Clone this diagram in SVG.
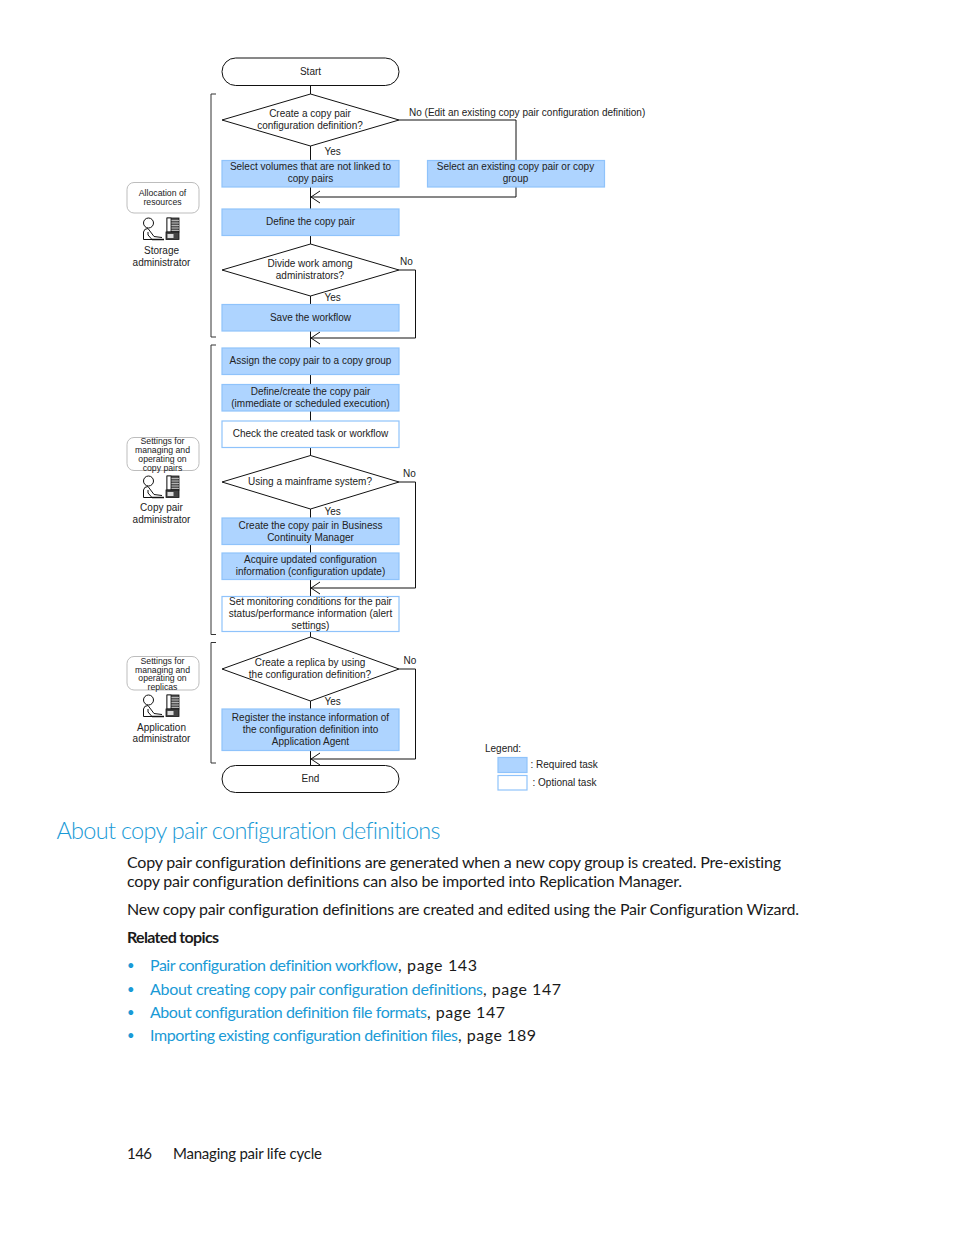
<svg xmlns="http://www.w3.org/2000/svg" width="954" height="1235" viewBox="0 0 954 1235">
<style>
text{font-family:"Liberation Sans",Arial,sans-serif;fill:#222;font-size:10px;text-anchor:middle}
.req{fill:#aed4ff;stroke:#8fc3fb;stroke-width:1.2}
.opt{fill:#fff;stroke:#8fc3fb;stroke-width:1.2}
.term,.dec{fill:#fff;stroke:#111;stroke-width:1}
.line{fill:none;stroke:#111;stroke-width:1}
.brk{fill:none;stroke:#333;stroke-width:1}
.role{fill:#fff;stroke:#bdbdbd;stroke-width:1}
.sm{font-size:8.7px}
.lbl{font-size:10px;text-anchor:start}
.body{font-family:Lato,"Open Sans",sans-serif;font-size:16px;text-anchor:start;fill:#1a1a1a;font-variant-ligatures:none}
.link{fill:#1a9ad6}
.dot{font-size:13px}
.h{font-family:Lato,"Open Sans",sans-serif;font-size:23.5px;font-weight:300;text-anchor:start;fill:#1a9ad6;font-variant-ligatures:none}
</style>
<defs>
<marker id="arr" markerUnits="userSpaceOnUse" markerWidth="12" markerHeight="14" refX="10" refY="7" orient="auto"><path d="M1 1 L10 7 L1 13" fill="none" stroke="#111" stroke-width="1"/></marker>
<g id="adminIcon">
<circle cx="5.500" cy="6" r="5" fill="#fff" stroke="#111" stroke-width="1"/>
<path d="M0.500 22.500 L0.500 15 Q1 11.500 5 11.500 L11 19.500 L19 20.500 M5 15 L5 18 L9 22.500 L0.500 22.500" fill="#fff" stroke="#111" stroke-width="1"/>
<path d="M9 22.500 H21" stroke="#111" stroke-width="1.500" fill="none"/>
<rect x="24" y="1" width="12" height="14" fill="#555" stroke="#111" stroke-width="0.800"/>
<path d="M28 3.500H36M28 6H36M28 8.500H36M28 11H36M28 13.500H36" stroke="#ccc" stroke-width="0.800"/>
<rect x="24" y="1" width="4" height="14" fill="#fff" stroke="#111" stroke-width="0.800"/>
<rect x="23" y="15" width="13" height="7.500" fill="#444" stroke="#111" stroke-width="0.800"/>
<rect x="24.500" y="17" width="6" height="4" fill="#ddd"/>
</g>
</defs>
<g id="connectors">
<path class="line" d="M310.500 85V765"/>
<path class="line" d="M399 120H516V197H311" marker-end="url(#arr)"/>
<path class="line" d="M399 270H415.500V338H311" marker-end="url(#arr)"/>
<path class="line" d="M399 482H415.500V588H311" marker-end="url(#arr)"/>
<path class="line" d="M399 669H415.500V759H311" marker-end="url(#arr)"/>
</g>
<g id="brackets">
<path class="brk" d="M216 94H211V337H216"/>
<path class="brk" d="M216 345H211V634.500H216"/>
<path class="brk" d="M216 642.500H211V763H216"/>
</g>
<g id="start"><rect class="term" x="222" y="58" width="177" height="27.500" rx="13.700"/><text x="310.500" y="74.500">Start</text></g>
<g id="d1"><path class="dec" d="M310.500 94L399 120L310.500 146L222 120Z"/><text x="310" y="117">Create a copy pair</text><text x="310" y="129">configuration definition?</text></g>
<g id="n-select"><rect class="req" x="222" y="160.500" width="177" height="26.500"/><text x="310.500" y="170">Select volumes that are not linked to</text><text x="310.500" y="182">copy pairs</text></g>
<g id="n-existing"><rect class="req" x="427.500" y="160.500" width="177" height="26.500"/><text x="515.500" y="170">Select an existing copy pair or copy</text><text x="515.500" y="182">group</text></g>
<g id="n-define"><rect class="req" x="222" y="209" width="177" height="26.500"/><text x="310.500" y="225">Define the copy pair</text></g>
<g id="d2"><path class="dec" d="M310.500 244L399 270L310.500 296L222 270Z"/><text x="310" y="267">Divide work among</text><text x="310" y="278.500">administrators?</text></g>
<g id="n-save"><rect class="req" x="222" y="304.500" width="177" height="26.500"/><text x="310.500" y="320.500">Save the workflow</text></g>
<g id="n-assign"><rect class="req" x="222" y="348" width="177" height="26.500"/><text x="310.500" y="364">Assign the copy pair to a copy group</text></g>
<g id="n-create"><rect class="req" x="222" y="384.500" width="177" height="26.500"/><text x="310.500" y="394.500">Define/create the copy pair</text><text x="310.500" y="406.500">(immediate or scheduled execution)</text></g>
<g id="n-check"><rect class="opt" x="222" y="421" width="177" height="26.500"/><text x="310.500" y="437">Check the created task or workflow</text></g>
<g id="d3"><path class="dec" d="M310.500 455.500L399 482L310.500 509L222 482Z"/><text x="310" y="485">Using a mainframe system?</text></g>
<g id="n-bcm"><rect class="req" x="222" y="518" width="177" height="26.500"/><text x="310.500" y="528.500">Create the copy pair in Business</text><text x="310.500" y="540.500">Continuity Manager</text></g>
<g id="n-acquire"><rect class="req" x="222" y="553" width="177" height="26.500"/><text x="310.500" y="562.500">Acquire updated configuration</text><text x="310.500" y="575">information (configuration update)</text></g>
<g id="n-monitor"><rect class="opt" x="222" y="596.500" width="177" height="35"/><text x="310.500" y="604.500">Set monitoring conditions for the pair</text><text x="310.500" y="616.500">status/performance information (alert</text><text x="310.500" y="628.500">settings)</text></g>
<g id="d4"><path class="dec" d="M310.500 637L399 669L310.500 701L222 669Z"/><text x="310" y="665.500">Create a replica by using</text><text x="310" y="677.500">the configuration definition?</text></g>
<g id="n-register"><rect class="req" x="222" y="709" width="177" height="41.500"/><text x="310.500" y="720.500">Register the instance information of</text><text x="310.500" y="733">the configuration definition into</text><text x="310.500" y="745">Application Agent</text></g>
<g id="end"><rect class="term" x="222" y="765.500" width="177" height="27" rx="13.500"/><text x="310.500" y="781.500">End</text></g>
<g id="edge-labels">
<text class="lbl" x="409" y="115.500">No (Edit an existing copy pair configuration definition)</text>
<text class="lbl" x="324.500" y="154.500">Yes</text>
<text class="lbl" x="400" y="265">No</text>
<text class="lbl" x="324.500" y="301">Yes</text>
<text class="lbl" x="403" y="477">No</text>
<text class="lbl" x="324.500" y="514.500">Yes</text>
<text class="lbl" x="403.500" y="664">No</text>
<text class="lbl" x="324.500" y="704.500">Yes</text>
</g>
<g id="role-storage"><rect class="role" x="127" y="182.500" width="72" height="30.500" rx="7"/><text class="sm" x="162.500" y="196">Allocation of</text><text class="sm" x="162.500" y="205">resources</text><use href="#adminIcon" x="143" y="217"/><text x="161.500" y="254">Storage</text><text x="161.500" y="265.500">administrator</text></g>
<g id="role-copy"><rect class="role" x="127" y="437.500" width="72" height="33" rx="7"/><text class="sm" x="162.500" y="444">Settings for</text><text class="sm" x="162.500" y="453">managing and</text><text class="sm" x="162.500" y="462">operating on</text><text class="sm" x="162.500" y="470.500">copy pairs</text><use href="#adminIcon" x="143" y="475"/><text x="161.500" y="511">Copy pair</text><text x="161.500" y="522.500">administrator</text></g>
<g id="role-app"><rect class="role" x="127" y="656.500" width="72" height="33.500" rx="7"/><text class="sm" x="162.500" y="663.500">Settings for</text><text class="sm" x="162.500" y="672.500">managing and</text><text class="sm" x="162.500" y="681">operating on</text><text class="sm" x="162.500" y="690">replicas</text><use href="#adminIcon" x="143" y="694"/><text x="161.500" y="730.500">Application</text><text x="161.500" y="741.500">administrator</text></g>
<g id="legend">
<text class="lbl" x="485" y="751.500">Legend:</text>
<rect class="req" x="498" y="757.500" width="29" height="15"/><text class="lbl" x="530.500" y="767.500">: Required task</text>
<rect class="opt" x="498" y="775.500" width="29" height="14.500"/><text class="lbl" x="532.500" y="785.500">: Optional task</text>
</g>
<text class="h" x="56.500" y="838.500" textLength="384">About copy pair configuration definitions</text>
<text class="body" x="127" y="868" textLength="654">Copy pair configuration definitions are generated when a new copy group is created. Pre-existing</text>
<text class="body" x="127" y="887" textLength="555">copy pair configuration definitions can also be imported into Replication Manager.</text>
<text class="body" x="127" y="915" textLength="672">New copy pair configuration definitions are created and edited using the Pair Configuration Wizard.</text>
<text class="body" x="127" y="943" textLength="92" style="font-weight:700">Related topics</text>
<text class="body link dot" x="127" y="970">•</text><text class="body link" x="150" y="971" textLength="248">Pair configuration definition workflow</text><text class="body" x="398" y="971" textLength="79">, page 143</text>
<text class="body link dot" x="127" y="994">•</text><text class="body link" x="150" y="995" textLength="333">About creating copy pair configuration definitions</text><text class="body" x="483" y="995" textLength="78">, page 147</text>
<text class="body link dot" x="127" y="1017">•</text><text class="body link" x="150" y="1018" textLength="277">About configuration definition file formats</text><text class="body" x="427" y="1018" textLength="78">, page 147</text>
<text class="body link dot" x="127" y="1040">•</text><text class="body link" x="150" y="1041" textLength="308">Importing existing configuration definition files</text><text class="body" x="458" y="1041" textLength="78">, page 189</text>
<text class="body" x="127" y="1159" textLength="25" style="font-size:15px">146</text>
<text class="body" x="173" y="1159" textLength="149" style="font-size:15px">Managing pair life cycle</text>
</svg>
